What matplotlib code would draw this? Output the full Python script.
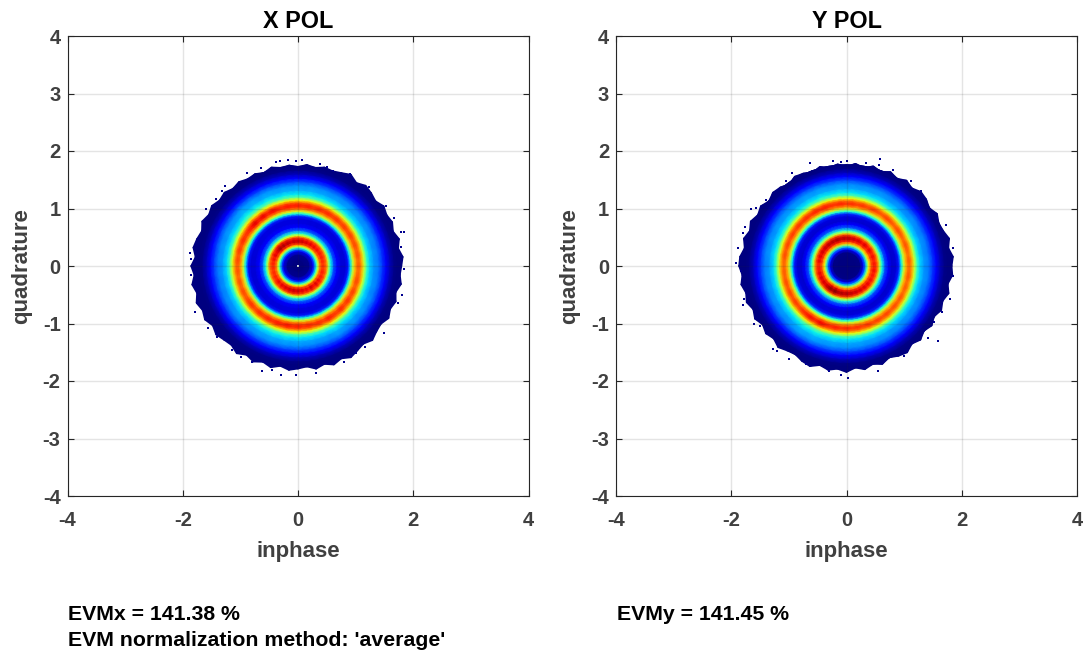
import matplotlib
matplotlib.use("Agg")
import matplotlib.pyplot as plt
import numpy as np

plt.rcParams.update({
    "figure.figsize": (10.84, 6.55),
    "figure.dpi": 100,
    "font.family": ["Liberation Sans", "DejaVu Sans"],
    "font.weight": "bold",
    "axes.labelweight": "bold",
    "axes.titleweight": "bold",
    "axes.unicode_minus": False,
})

# radial density profile (0 = navy, 1 = dark red on jet)
radius_x = [0.00, 0.10, 0.20, 0.26, 0.29, 0.32, 0.35, 0.38, 0.42, 0.46, 0.50, 0.53, 0.57,
            0.62, 0.68, 0.75, 0.82, 0.87, 0.91, 0.95, 0.99, 1.03, 1.07, 1.11, 1.15, 1.20,
            1.25, 1.32, 1.40, 1.47, 1.53, 1.60, 1.67, 1.73]
density_x = [0.00, 0.00, 0.02, 0.11, 0.24, 0.40, 0.62, 0.80, 0.89, 0.88, 0.80, 0.60, 0.38,
             0.22, 0.12, 0.08, 0.08, 0.15, 0.35, 0.58, 0.74, 0.83, 0.84, 0.76, 0.62, 0.43,
             0.34, 0.28, 0.25, 0.18, 0.11, 0.05, 0.01, 0.00]

radius_y = [0.00, 0.15, 0.24, 0.29, 0.33, 0.36, 0.39, 0.43, 0.47, 0.51, 0.55, 0.58, 0.62,
            0.67, 0.73, 0.79, 0.86, 0.91, 0.95, 0.99, 1.03, 1.07, 1.10, 1.14, 1.18, 1.23,
            1.28, 1.35, 1.43, 1.50, 1.56, 1.63, 1.70, 1.76]
density_y = [0.00, 0.00, 0.01, 0.11, 0.28, 0.48, 0.68, 0.84, 0.91, 0.90, 0.78, 0.58, 0.38,
             0.21, 0.11, 0.07, 0.08, 0.16, 0.36, 0.58, 0.74, 0.82, 0.83, 0.76, 0.62, 0.43,
             0.34, 0.28, 0.25, 0.18, 0.11, 0.05, 0.01, 0.00]

# outer edge of the cloud every 5 degrees, counter clockwise from +x
edge_x = [1.80, 1.83, 1.77, 1.82, 1.76, 1.81, 1.78, 1.82, 1.76, 1.80, 1.83, 1.77,
          1.84, 1.79, 1.76, 1.78, 1.74, 1.77, 1.73, 1.76, 1.74, 1.78, 1.73, 1.77,
          1.75, 1.79, 1.76, 1.81, 1.78, 1.83, 1.79, 1.84, 1.78, 1.82, 1.85, 1.79,
          1.86, 1.81, 1.87, 1.82, 1.88, 1.83, 1.87, 1.81, 1.86, 1.82, 1.80, 1.86,
          1.79, 1.84, 1.78, 1.83, 1.77, 1.82, 1.79, 1.76, 1.82, 1.77, 1.83, 1.78,
          1.84, 1.80, 1.77, 1.83, 1.78, 1.76, 1.82, 1.77, 1.81, 1.76, 1.82, 1.78]
edge_y = [1.83, 1.86, 1.80, 1.85, 1.79, 1.77, 1.82, 1.76, 1.81, 1.83, 1.77, 1.82,
          1.76, 1.81, 1.75, 1.80, 1.74, 1.79, 1.73, 1.78, 1.74, 1.79, 1.73, 1.78,
          1.80, 1.74, 1.79, 1.81, 1.76, 1.82, 1.78, 1.84, 1.79, 1.85, 1.80, 1.86,
          1.87, 1.82, 1.86, 1.81, 1.85, 1.79, 1.84, 1.78, 1.83, 1.79, 1.85, 1.80,
          1.78, 1.83, 1.86, 1.79, 1.84, 1.80, 1.85, 1.78, 1.83, 1.77, 1.82, 1.76,
          1.81, 1.84, 1.77, 1.82, 1.76, 1.81, 1.76, 1.82, 1.78, 1.84, 1.79, 1.85]

# brightness of the rings by angle, every 5 degrees from +x
gain_x = [0.97, 0.95, 0.98, 0.96, 0.99, 0.97, 1.00, 0.98, 1.01, 0.99, 1.02, 1.00,
          1.03, 1.01, 1.04, 1.02, 1.05, 1.03, 1.05, 1.04, 1.06, 1.03, 1.05, 1.07,
          1.04, 1.08, 1.05, 1.09, 1.06, 1.03, 1.01, 1.03, 0.99, 1.01, 0.97, 0.99,
          0.96, 0.98, 0.95, 0.98, 0.96, 0.99, 0.97, 1.00, 1.02, 0.99, 1.03, 1.01,
          1.04, 1.02, 1.05, 1.03, 1.06, 1.03, 1.05, 1.02, 1.04, 1.01, 1.03, 1.00,
          1.05, 1.02, 1.00, 1.04, 0.99, 1.02, 0.98, 1.00, 0.96, 0.99, 0.97, 0.95]
gain_y = [0.96, 0.98, 0.95, 0.97, 0.99, 0.96, 0.98, 1.00, 0.97, 0.99, 1.01, 0.98,
          1.00, 1.02, 1.00, 1.03, 1.01, 1.04, 1.02, 1.05, 1.03, 1.04, 1.06, 1.03,
          1.05, 1.02, 1.04, 1.01, 1.03, 1.00, 1.02, 0.99, 1.01, 0.98, 1.00, 0.97,
          0.96, 0.98, 0.97, 1.00, 0.98, 1.01, 0.99, 1.02, 1.00, 1.03, 1.05, 1.08,
          1.05, 1.09, 1.06, 1.04, 1.06, 1.03, 1.05, 1.02, 1.04, 1.01, 1.03, 1.00,
          1.02, 0.99, 1.01, 0.98, 1.00, 0.97, 0.99, 0.96, 0.98, 0.96, 0.99, 0.97]

# isolated bins outside the cloud
stray_x_i = [-0.32, -0.18, -0.04, 0.07, -0.39, -0.65, -0.89, -1.26, -1.32, -1.43, -1.60, 1.84,
             1.66, 1.52, 1.23, 0.91, 0.39, 0.51, 0.60, -1.88, -1.85, -1.85, -1.78, -1.56,
             -1.40, -1.14, -0.99, -0.79, -0.62, -0.45, -0.30, -0.04, 0.32, 0.79, 1.00, 1.17,
             1.49, 1.73, 1.81, 1.84, 1.78, 1.79]
stray_x_q = [1.82, 1.84, 1.83, 1.84, 1.81, 1.71, 1.61, 1.40, 1.31, 1.17, 0.99, 0.60,
             0.84, 1.05, 1.37, 1.60, 1.78, 1.73, 1.66, 0.23, 0.13, -0.16, -0.80, -1.07,
             -1.23, -1.46, -1.58, -1.67, -1.83, -1.81, -1.90, -1.90, -1.86, -1.67, -1.52, -1.40,
             -1.16, -0.65, -0.51, -0.05, 0.59, 0.33]
stray_y_i = [0.58, 0.57, -0.64, -0.24, -0.10, 0.01, 0.34, -0.94, -1.05, -1.40, -1.65, -1.57,
             -1.77, -1.79, -1.88, -1.91, -1.83, -1.78, -1.79, -1.60, -1.50, -1.27, -1.20, -1.00,
             -0.71, -0.30, -0.10, 0.02, 0.54, 1.00, 1.41, 1.58, 1.52, 1.65, 1.80, 1.84,
             1.84, 1.72, 1.57, 1.29, 1.12, 0.80]
stray_y_q = [1.86, 1.76, 1.79, 1.83, 1.81, 1.82, 1.79, 1.62, 1.48, 1.14, 1.00, 1.01,
             0.67, 0.58, 0.32, 0.06, -0.09, -0.58, -0.68, -1.00, -1.04, -1.44, -1.48, -1.61,
             -1.71, -1.82, -1.90, -1.94, -1.83, -1.57, -1.26, -1.30, -0.98, -0.80, -0.58, -0.17,
             0.32, 0.72, 0.84, 1.30, 1.48, 1.67]

titles = ["X POL", "Y POL"]
yticks = [-4, -3, -2, -1, 0, 1, 2, 3, 4]
xticks = [-4, -2, 0, 2, 4]
ink = "#404040"


def draw_panel(ax, radius, density, edge, gain, stray_i, stray_q, title):
    theta = np.deg2rad(np.arange(0, 365, 5))
    r_rows = np.array(radius + [0.0])[:, None] * np.ones((1, theta.size))
    r_rows[-1, :] = edge + edge[:1]
    c_rows = np.array(density + [0.0])[:, None] * np.array(gain + gain[:1])[None, :]

    ax.pcolormesh(r_rows * np.cos(theta), r_rows * np.sin(theta), c_rows,
                  cmap="jet", vmin=0.0, vmax=1.0, shading="gouraud", zorder=1)
    ax.scatter(stray_i, stray_q, s=3.5, marker="s", color="#00008f", linewidths=0, zorder=1)

    ax.set_xlim(-4, 4)
    ax.set_ylim(-4, 4)
    ax.set_xticks(xticks)
    ax.set_yticks(yticks)
    ax.grid(True, color="#262626", alpha=0.12, linewidth=1.0)
    ax.set_axisbelow(False)
    ax.tick_params(direction="in", length=4.5, width=0.8, color="#262626", top=True, right=True,
                   labelsize=14.5, labelcolor=ink)
    ax.tick_params(axis="x", pad=10.5)
    ax.tick_params(axis="y", pad=5)
    for spine in ax.spines.values():
        spine.set_color("#262626")
        spine.set_linewidth(0.8)
    ax.set_title(title, fontsize=16.8, color="black", pad=6)
    ax.set_xlabel("inphase", fontsize=16, color=ink, labelpad=8)
    ax.set_ylabel("quadrature", fontsize=16, color=ink)
    ax.yaxis.set_label_coords(-0.0775, 0.5)


def main():
    fig = plt.figure()
    ax_x = fig.add_axes([67.5 / 1084, 159 / 655, 461 / 1084, 460 / 655])
    ax_y = fig.add_axes([616 / 1084, 159 / 655, 461 / 1084, 460 / 655])

    draw_panel(ax_x, radius_x, density_x, edge_x, gain_x, stray_x_i, stray_x_q, titles[0])
    draw_panel(ax_y, radius_y, density_y, edge_y, gain_y, stray_y_i, stray_y_q, titles[1])

    # empty centre bin of the X panel
    ax_x.scatter([0.0], [0.0], s=3, marker="s", color="#d8e4f0", linewidths=0, zorder=2)

    fig.text(68 / 1084, 1 - 620 / 655, "EVMx = 141.38 %", fontsize=15.3, color="black")
    fig.text(68 / 1084, 1 - 646 / 655, "EVM normalization method: 'average'", fontsize=15.3, color="black")
    fig.text(617 / 1084, 1 - 620 / 655, "EVMy = 141.45 %", fontsize=15.3, color="black")

    fig.savefig("out.png", dpi=100)


if __name__ == "__main__":
    main()
